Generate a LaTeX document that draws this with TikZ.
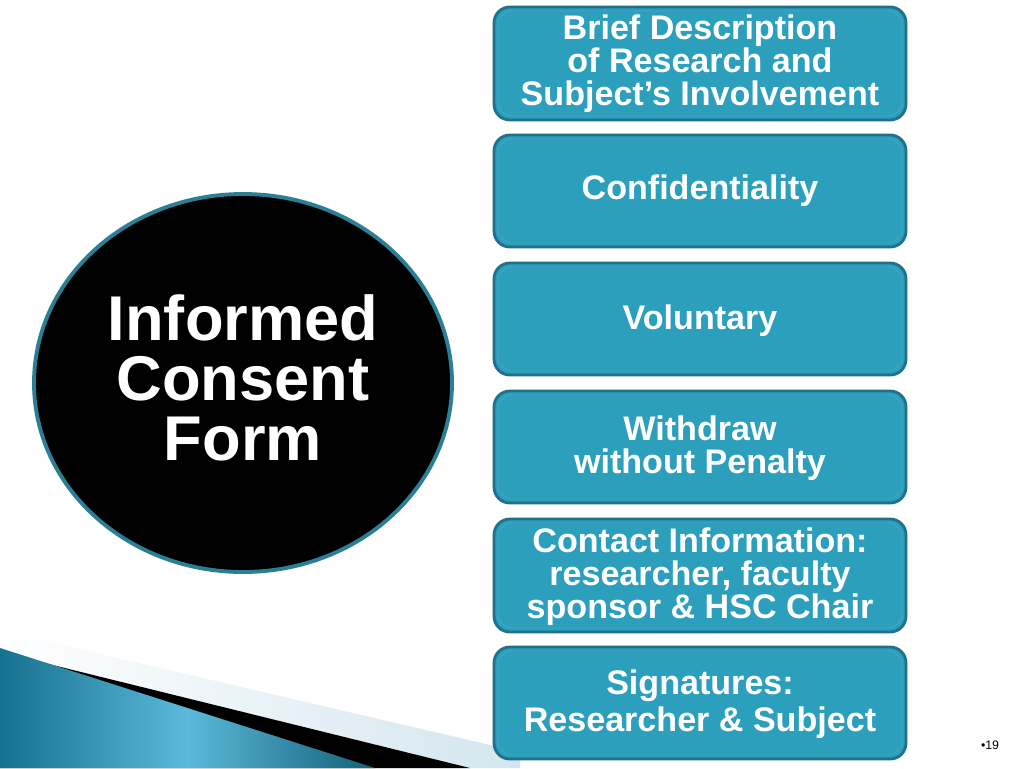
\documentclass[tikz,border=0pt]{standalone}
\usepackage{fontspec}
\setmainfont{Liberation Sans}
\usetikzlibrary{shapes.geometric}
\begin{document}
\begin{tikzpicture}[x=0.02cm,y=-0.02cm,
  boxfill/.style={rounded corners=9pt,fill=tealfill,draw=tealdark,line width=1.6pt},
  boxin/.style={rounded corners=8pt,draw=tealline,line width=0.5pt},
  boxtext/.style={text=white,font=\bfseries\fontsize{19.4}{18.7}\selectfont,align=center},
  circtext/.style={text=white,font=\bfseries\fontsize{36}{34}\selectfont,align=center}]
\definecolor{tealfill}{HTML}{2C9FBD}
\definecolor{tealdark}{HTML}{1F7089}
\definecolor{tealline}{HTML}{3FA9C4}
\definecolor{ringteal}{HTML}{2A7F95}
\definecolor{lightband}{HTML}{D4E6EF}
\definecolor{bluedark}{HTML}{16718F}
\definecolor{bluelight}{HTML}{5BB9D9}
\useasboundingbox (0,0) rectangle (1024,768);
\fill[white] (0,0) rectangle (1024,768);
% bottom-left decoration
\shade[left color=white,right color=lightband] (40,640) -- (520,752) -- (520,768) -- (0,768) -- (0,640) -- cycle;
\fill[black] (0,652) -- (470,768) -- (0,768) -- cycle;
\shade[left color=bluedark,right color=bluedark!85!black,middle color=bluelight] (0,648) -- (375,768) -- (0,768) -- cycle;
% circle
\node[ellipse,fill=black,draw=ringteal,line width=2.2pt,minimum width=418*0.02cm,minimum height=378*0.02cm,inner sep=0pt] (c) at (243,383) {};
\node[circtext] (ct) at (243,378) {Informed\\Consent\\Form};
% boxes
\foreach \i/\t/\b in {1/7/120,2/135/247,3/263/375,4/391/503,5/519/632,6/647/759}{
  \draw[boxfill] (494,\t) rectangle (906,\b);
  \draw[boxin] (498,\t+4) rectangle (902,\b-4);
}
\node[boxtext] (b1) at (700,64) {Brief Description\\of Research and\\Subject’s Involvement};
\node[boxtext] (b2) at (700,191) {Confidentiality};
\node[boxtext] (b3) at (700,321) {Voluntary};
\node[boxtext] (b4) at (700,448) {Withdraw\\without Penalty};
\node[boxtext] (b5) at (700,577) {Contact Information:\\researcher, faculty\\sponsor \& HSC Chair};
\node[boxtext,font=\bfseries\fontsize{19.4}{21}\selectfont] (b6) at (700,704) {Signatures:\\Researcher \& Subject};
\node[font=\fontsize{7}{8}\selectfont] (pg) at (990,745) {•19};
\end{tikzpicture}
\end{document}
